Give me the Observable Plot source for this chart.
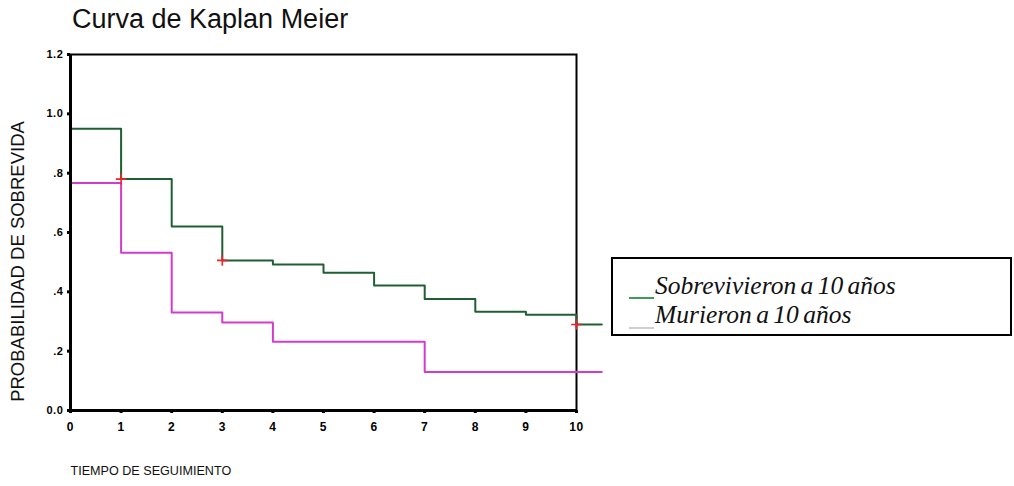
<!DOCTYPE html>
<html>
<head>
<meta charset="utf-8">
<script src="https://cdn.jsdelivr.net/npm/d3@7"></script>
<script src="https://cdn.jsdelivr.net/npm/@observablehq/plot@0.6"></script>
<style>
  html, body { margin: 0; padding: 0; background: #fff; }
  #wrap { position: relative; width: 1014px; height: 486px; overflow: hidden; font-family: "Liberation Sans", Arial, sans-serif; }
  #title { position: absolute; left: 72px; top: 4px; font-size: 27px; color: #111; white-space: nowrap; }
  #legend { position: absolute; left: 611px; top: 257px; width: 401px; height: 79px; border: 2px solid #000; box-sizing: border-box; background: #fff; }
  .lg-row { position: absolute; left: 42px; font-family: "Liberation Serif", "Times New Roman", serif; font-style: italic; font-size: 25.5px; line-height: 1; color: #111; white-space: nowrap; word-spacing: -2px; }
  .lg-sw { position: absolute; left: 16px; width: 25px; height: 0; }
  svg text { font-family: "Liberation Sans", Arial, sans-serif; }
  g[aria-label="y-axis tick label"] text, g[aria-label="x-axis tick label"] text { letter-spacing: 0.6px; }
</style>
</head>
<body>
<div id="wrap">
  <div id="title"></div>
  <div id="chart"></div>
  <div id="legend"></div>
</div>
<script>
// ---- data ----
const titleText = "Curva de Kaplan Meier";
const xLabel = "TIEMPO DE SEGUIMIENTO";
const yLabel = "PROBABILIDAD DE SOBREVIDA";
const seriesNames = ["Sobrevivieron a 10 años", "Murieron a 10 años"];
const seriesColors = ["#1f5f32", "#d23ccc"];
const legendSwatchColors = ["#3f9a55", "#cfcfcf"];

const timesSobrevivieron  = [0, 1, 2, 3, 4, 5, 6, 7, 8, 9, 10, 10.5];
const valuesSobrevivieron = [0.95, 0.78, 0.62, 0.506, 0.492, 0.464, 0.421, 0.376, 0.333, 0.323, 0.29, 0.29];

const timesMurieron  = [0, 1, 2, 3, 4, 7, 10.5];
const valuesMurieron = [0.767, 0.532, 0.33, 0.297, 0.232, 0.13, 0.13];

const censorTimes  = [1, 3, 10];
const censorValues = [0.78, 0.506, 0.29];

const xTicks = [0, 1, 2, 3, 4, 5, 6, 7, 8, 9, 10];
const yTicks = [0, 0.2, 0.4, 0.6, 0.8, 1.0, 1.2];
const yTickLabels = ["0.0", ".2", ".4", ".6", ".8", "1.0", "1.2"];

// ---- tables ----
const sob = timesSobrevivieron.map((t, i) => ({t, s: valuesSobrevivieron[i]}));
const mur = timesMurieron.map((t, i) => ({t, s: valuesMurieron[i]}));
const cens = censorTimes.map((t, i) => ({t, s: censorValues[i]}));
const yLabelMap = new Map(yTicks.map((v, i) => [v, yTickLabels[i]]));

const chart = Plot.plot({
  width: 1014,
  height: 486,
  marginLeft: 70,
  marginRight: 438,
  marginTop: 54,
  marginBottom: 76,
  x: {domain: [0, 10]},
  y: {domain: [0, 1.2]},
  marks: [
    Plot.frame({stroke: "#000", strokeWidth: 2}),
    Plot.line(sob, {x: "t", y: "s", curve: "step-after", stroke: seriesColors[0], strokeWidth: 2}),
    Plot.line(mur, {x: "t", y: "s", curve: "step-after", stroke: seriesColors[1], strokeWidth: 2}),
    Plot.ruleX([0], {stroke: "#000", strokeWidth: 3}),
    Plot.ruleY([0], {stroke: "#000", strokeWidth: 3}),
    Plot.dot(cens, {x: "t", y: "s", symbol: "plus", r: 3.5, stroke: "#e8262a", strokeWidth: 1.6}),
    Plot.axisY({ticks: yTicks, tickFormat: d => yLabelMap.get(d), tickSize: 3, tickPadding: 4, strokeWidth: 3, fontSize: 11, fontWeight: "bold", label: null}),
    Plot.axisX({ticks: xTicks, tickFormat: d => String(d), tickSize: 3, tickPadding: 9, strokeWidth: 3, fontSize: 12, fontWeight: "bold", label: null}),
    Plot.text([yLabel], {frameAnchor: "left", textAnchor: "middle", rotate: -90, dx: -52, dy: 29, fontSize: 18.5, fill: "#111"}),
    Plot.text([xLabel], {frameAnchor: "bottom-left", textAnchor: "start", lineAnchor: "bottom", dy: 64, fontSize: 12.6, fill: "#111"})
  ]
});
document.getElementById("chart").appendChild(chart);
document.getElementById("title").textContent = titleText;

const legend = document.getElementById("legend");
const rowTops = [14, 43];
const swTops = [38, 68];
seriesNames.forEach((name, i) => {
  const sw = document.createElement("div");
  sw.className = "lg-sw";
  sw.style.top = swTops[i] + "px";
  sw.style.borderTop = "2px solid " + legendSwatchColors[i];
  legend.appendChild(sw);
  const row = document.createElement("div");
  row.className = "lg-row";
  row.style.top = rowTops[i] + "px";
  row.textContent = name;
  legend.appendChild(row);
});
</script>
</body>
</html>
